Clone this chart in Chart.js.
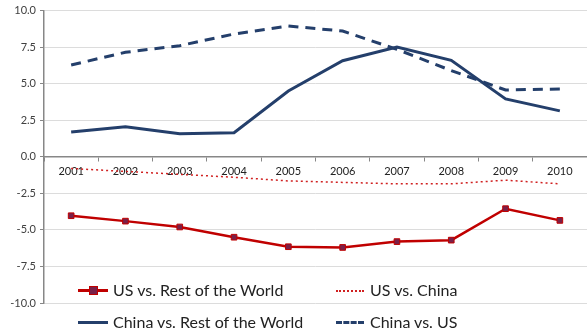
<!DOCTYPE html>
<html>
<head>
<meta charset="utf-8">
<script src="https://cdn.jsdelivr.net/npm/chart.js@4/dist/chart.umd.min.js"></script>
<style>
  html, body { margin: 0; padding: 0; background: #fff; overflow: hidden; }
  #wrap { position: relative; width: 592px; height: 333px; }
  .leg { position: absolute; font-family: Lato, "Open Sans", sans-serif; font-size: 16px; color: #222; line-height: 20px; white-space: nowrap; }
  .swatch { position: absolute; width: 30px; height: 0; }
</style>
</head>
<body>
<div id="wrap">
  <canvas id="chart" width="592" height="333"></canvas>
  <div class="swatch" style="left:78px; top:289px; border-top:3px solid #c00000;"></div>
  <div class="swatch" style="left:89px; top:286px; width:7px; height:7px; background:#7a2048; border:1px solid #c00000;"></div>
  <div class="leg" style="left:113px; top:280px;">US vs. Rest of the World</div>
  <div class="swatch" style="left:336px; top:290px; width:28px; border-top:2px dotted #d02020;"></div>
  <div class="leg" style="left:370px; top:280px;">US vs. China</div>
  <div class="swatch" style="left:78px; top:321px; border-top:3px solid #243f6b;"></div>
  <div class="leg" style="left:113px; top:312px;">China vs. Rest of the World</div>
  <div class="swatch" style="left:336px; top:321px; width:28px; border-top:3px dashed #243f6b;"></div>
  <div class="leg" style="left:370px; top:312px;">China vs. US</div>
</div>
<script>
// categories and series
const years = ["2001", "2002", "2003", "2004", "2005", "2006", "2007", "2008", "2009", "2010"];
const usVsRow = [-4.03, -4.4, -4.8, -5.5, -6.15, -6.2, -5.8, -5.7, -3.55, -4.35];
const usVsChina = [-0.8, -1.0, -1.2, -1.4, -1.65, -1.75, -1.85, -1.85, -1.6, -1.85];
const chinaVsRow = [1.7, 2.05, 1.57, 1.65, 4.5, 6.57, 7.5, 6.6, 3.96, 3.14];
const chinaVsUs = [6.28, 7.15, 7.6, 8.4, 8.95, 8.6, 7.35, 5.9, 4.57, 4.64];
const yTicks = [-10, -7.5, -5, -2.5, 0, 2.5, 5, 7.5, 10];

const navy = '#243f6b';

new Chart(document.getElementById('chart'), {
    type: 'line',
    data: {
        labels: years,
        datasets: [
            {
                label: 'US vs. Rest of the World',
                data: usVsRow,
                borderColor: '#c00000',
                borderWidth: 2.5,
                pointStyle: 'rect',
                pointRadius: 4,
                pointBackgroundColor: '#7a2048',
                pointBorderColor: '#c00000',
                pointBorderWidth: 1
            },
            {
                label: 'US vs. China',
                data: usVsChina,
                borderColor: '#d02020',
                borderWidth: 1.5,
                borderDash: [2, 3],
                pointRadius: 0
            },
            {
                label: 'China vs. Rest of the World',
                data: chinaVsRow,
                borderColor: navy,
                borderWidth: 3,
                pointRadius: 0
            },
            {
                label: 'China vs. US',
                data: chinaVsUs,
                borderColor: navy,
                borderWidth: 3,
                borderDash: [10, 7],
                pointRadius: 0
            }
        ]
    },
    options: {
        responsive: false,
        animation: false,
        layout: { padding: { top: 4, right: 0, bottom: 30, left: 0 } },
        plugins: { legend: { display: false }, tooltip: { enabled: false } },
        scales: {
            x: {
                position: { y: 0 },
                offset: true,
                grid: { drawOnChartArea: false, offset: true, tickLength: 4, tickColor: '#878787' },
                border: { color: '#878787', width: 1.5 },
                ticks: { color: '#222', font: { family: 'Lato', size: 11 }, padding: 4, maxRotation: 0 }
            },
            y: {
                min: -10,
                max: 10,
                afterBuildTicks: s => { s.ticks = yTicks.map(v => ({ value: v })); },
                afterFit: s => { s.width = 44; },
                grid: { color: '#dcdcdc', tickLength: 4, tickColor: '#878787' },
                border: { color: '#878787', width: 1.5 },
                ticks: {
                    color: '#404040',
                    font: { family: 'Lato', size: 11 },
                    padding: 4,
                    callback: v => v.toFixed(1)
                }
            }
        }
    }
});
</script>
</body>
</html>
